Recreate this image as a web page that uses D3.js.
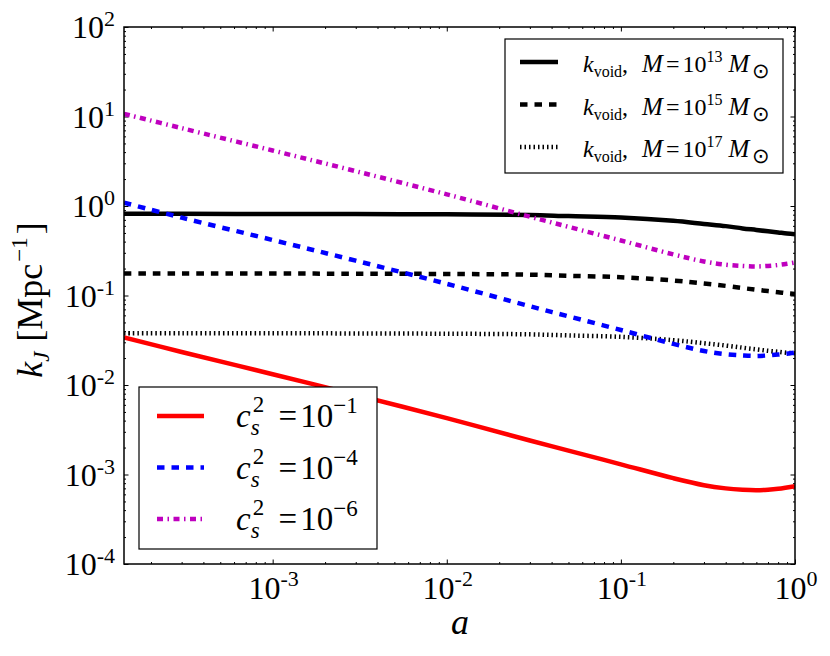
<!DOCTYPE html>
<html>
<head>
<meta charset="utf-8">
<script src="https://cdn.jsdelivr.net/npm/d3@7"></script>
<style>
    body { margin: 0; background: #fff; }
    .tick line { stroke: #000; stroke-width: 1; }
</style>
</head>
<body>
<div id="chart"></div>
<script>
// scale factor a, and k_J [Mpc^-1]
const aVals = [1.4e-4, 3e-4, 1e-3, 3e-3, 1e-2, 3e-2, 0.05, 0.1, 0.2, 0.3, 0.4, 0.5, 0.6, 0.7, 0.8, 0.9, 1.0];

const kVoid13 = [0.817, 0.817, 0.815, 0.813, 0.807, 0.794, 0.771, 0.745, 0.684, 0.631, 0.596, 0.562, 0.540, 0.521, 0.506, 0.493, 0.484];
const kVoid15 = [0.176, 0.176, 0.176, 0.175, 0.174, 0.171, 0.166, 0.160, 0.147, 0.136, 0.128, 0.121, 0.116, 0.112, 0.109, 0.106, 0.104];
const kVoid17 = [0.0379, 0.0379, 0.0378, 0.0377, 0.0374, 0.0368, 0.0358, 0.0345, 0.0317, 0.0293, 0.0276, 0.0261, 0.0250, 0.0241, 0.0235, 0.0229, 0.0226];

const kCs1 = [0.0339, 0.0234, 0.0132, 0.00776, 0.00427, 0.00240, 0.00185, 0.00130, 0.00091, 0.00076, 0.00070, 0.000676, 0.000668, 0.000676, 0.000692, 0.000716, 0.000741];
const kCs4 = [1.09, 0.741, 0.417, 0.245, 0.135, 0.0759, 0.0585, 0.0412, 0.0288, 0.0240, 0.0221, 0.0214, 0.0211, 0.0214, 0.0219, 0.0224, 0.0230];
const kCs6 = [10.7, 7.41, 4.17, 2.45, 1.35, 0.759, 0.585, 0.412, 0.288, 0.240, 0.221, 0.214, 0.211, 0.214, 0.219, 0.226, 0.234];

const xMajor = [-3, -2, -1, 0];
const yMajor = [-4, -3, -2, -1, 0, 1, 2];
const voidMasses = ["13", "15", "17"];
const csExps = ["1", "4", "6"];

const FONT = '"Liberation Serif", "Times New Roman", serif';
const width = 830, height = 656;
const pLeft = 124, pRight = 795, pTop = 27, pBottom = 564;

const svg = d3.select("#chart").append("svg")
    .attr("width", width).attr("height", height)
    .style("font-family", FONT);

const x = d3.scaleLog().domain([1.4e-4, 1]).range([pLeft, pRight]);
const y = d3.scaleLog().domain([1e-4, 1e2]).range([pBottom, pTop]);

svg.append("defs").append("clipPath").attr("id", "plot")
    .append("rect").attr("x", pLeft).attr("y", pTop)
    .attr("width", pRight - pLeft).attr("height", pBottom - pTop);

// minor ticks 2..9 per decade
function minors(lo, hi, dmin, dmax) {
    const out = [];
    for (let e = lo; e <= hi; e++) {
        for (let m = 2; m <= 9; m++) {
            const v = m * Math.pow(10, e);
            if (v > dmin && v < dmax) out.push(v);
        }
    }
    return out;
}
const xMinor = minors(-4, -1, 1.4e-4, 1);
const yMinor = minors(-4, 1, 1e-4, 1e2);

function ticks(axis, transform, values, size) {
    svg.append("g").attr("transform", transform)
        .call(axis.tickValues(values).tickSize(-size).tickFormat(""))
        .call(g => g.select(".domain").remove());
}
const xMaj = xMajor.map(e => Math.pow(10, e));
const yMaj = yMajor.map(e => Math.pow(10, e));
ticks(d3.axisBottom(x), `translate(0,${pBottom})`, xMaj, 4.5);
ticks(d3.axisBottom(x), `translate(0,${pBottom})`, xMinor, 2);
ticks(d3.axisTop(x), `translate(0,${pTop})`, xMaj, 4.5);
ticks(d3.axisTop(x), `translate(0,${pTop})`, xMinor, 2);
ticks(d3.axisLeft(y), `translate(${pLeft},0)`, yMaj, 4.5);
ticks(d3.axisLeft(y), `translate(${pLeft},0)`, yMinor, 2);
ticks(d3.axisRight(y), `translate(${pRight},0)`, yMaj, 4.5);
ticks(d3.axisRight(y), `translate(${pRight},0)`, yMinor, 2);

// tick labels 10^n
xMajor.forEach(e => {
    const t = svg.append("text").attr("x", x(Math.pow(10, e)) + 1).attr("y", pBottom + 35)
        .attr("text-anchor", "middle").style("font-size", "32px").text("10");
    t.append("tspan").attr("dy", -13).style("font-size", "22px").text(String(e));
});
yMajor.forEach(e => {
    const t = svg.append("text").attr("x", pLeft - 9).attr("y", y(Math.pow(10, e)) + 11)
        .attr("text-anchor", "end").style("font-size", "32px").text("10");
    t.append("tspan").attr("dy", -12).style("font-size", "22px").text(String(e));
});

// curves
const line = d3.line()
    .x(d => x(d[0])).y(d => y(d[1]))
    .curve(d3.curveCatmullRom);

const series = [
    { k: kVoid13, color: "#000", dash: null },
    { k: kVoid15, color: "#000", dash: "7.5,7" },
    { k: kVoid17, color: "#000", dash: "1.5,3" },
    { k: kCs1, color: "#ff0000", dash: null },
    { k: kCs4, color: "#0000ff", dash: "7.5,7" },
    { k: kCs6, color: "#bf00bf", dash: "6,4.5,1.5,4.5" }
];

const plot = svg.append("g").attr("clip-path", "url(#plot)");
series.forEach(s => {
    plot.append("path")
        .datum(aVals.map((a, i) => [a, s.k[i]]))
        .attr("d", line)
        .attr("fill", "none")
        .attr("stroke", s.color)
        .attr("stroke-width", 4.5)
        .attr("stroke-dasharray", s.dash);
});

// frame
svg.append("rect").attr("x", pLeft).attr("y", pTop)
    .attr("width", pRight - pLeft).attr("height", pBottom - pTop)
    .attr("fill", "none").attr("stroke", "#000").attr("stroke-width", 1.5);

// lay out a row of text pieces left to right
function mathRow(g, x0, y0, parts) {
    let cx = x0;
    parts.forEach(p => {
        const t = g.append("text")
            .attr("x", cx + (p.dx || 0)).attr("y", y0 + (p.dy || 0))
            .style("font-family", FONT)
            .style("font-size", p.size + "px")
            .style("font-style", p.it ? "italic" : "normal")
            .text(p.t);
        const w = t.node().getComputedTextLength();
        if (!p.stack) cx += (p.dx || 0) + w;
    });
}

// legend: void scales
const leg1 = svg.append("g");
leg1.append("rect").attr("x", 505).attr("y", 39).attr("width", 278).attr("height", 134)
    .attr("fill", "#fff").attr("stroke", "#000").attr("stroke-width", 1.2);
voidMasses.forEach((m, i) => {
    const ly = 62 + i * 42.5;
    leg1.append("line").attr("x1", 520).attr("x2", 558).attr("y1", ly).attr("y2", ly)
        .attr("stroke", "#000").attr("stroke-width", 4.5)
        .attr("stroke-dasharray", series[i].dash);
    mathRow(leg1, 583, ly + 10, [
        { t: "k", it: true, size: 24 },
        { t: "void", size: 16, dy: 5 },
        { t: ",", size: 24 },
        { t: "M", it: true, size: 25, dx: 14 },
        { t: "=", size: 24, dx: 3 },
        { t: "10", size: 24, dx: 3 },
        { t: m, size: 16, dy: -10 },
        { t: "M", it: true, size: 25, dx: 6 },
        { t: "\u2299", size: 21, dy: 6, dx: 3 }
    ]);
});

// legend: sound speeds
const leg2 = svg.append("g");
leg2.append("rect").attr("x", 139).attr("y", 387).attr("width", 238).attr("height", 162)
    .attr("fill", "#fff").attr("stroke", "#000").attr("stroke-width", 1.2);
csExps.forEach((c, i) => {
    const s = series[3 + i];
    const ly = 416 + i * 51.5;
    leg2.append("line").attr("x1", 157).attr("x2", 204).attr("y1", ly).attr("y2", ly)
        .attr("stroke", s.color).attr("stroke-width", 4.5)
        .attr("stroke-dasharray", s.dash);
    mathRow(leg2, 236, ly + 11, [
        { t: "c", it: true, size: 33 },
        { t: "2", size: 23, dy: -15, dx: 2, stack: true },
        { t: "s", it: true, size: 23, dy: 8 },
        { t: "=", size: 33, dx: 19 },
        { t: "10", size: 33, dx: 3 },
        { t: "\u2212" + c, size: 23, dy: -14 }
    ]);
});

// axis labels
svg.append("text").attr("x", 460).attr("y", 634).attr("text-anchor", "middle")
    .style("font-size", "36px").style("font-style", "italic").text("a");

const yl = svg.append("text")
    .attr("transform", "translate(42,300) rotate(-90)")
    .attr("text-anchor", "middle").style("font-size", "36px");
yl.append("tspan").style("font-style", "italic").text("k");
yl.append("tspan").attr("dy", 7).style("font-size", "23px").style("font-style", "italic").text("J");
yl.append("tspan").attr("dy", -7).attr("dx", 10).text("[Mpc");
yl.append("tspan").attr("dy", -15).attr("dx", 2).style("font-size", "23px").text("\u22121");
yl.append("tspan").attr("dy", 15).attr("dx", 3).text("]");

svg.selectAll("text").style("font-family", FONT);
</script>
</body>
</html>
